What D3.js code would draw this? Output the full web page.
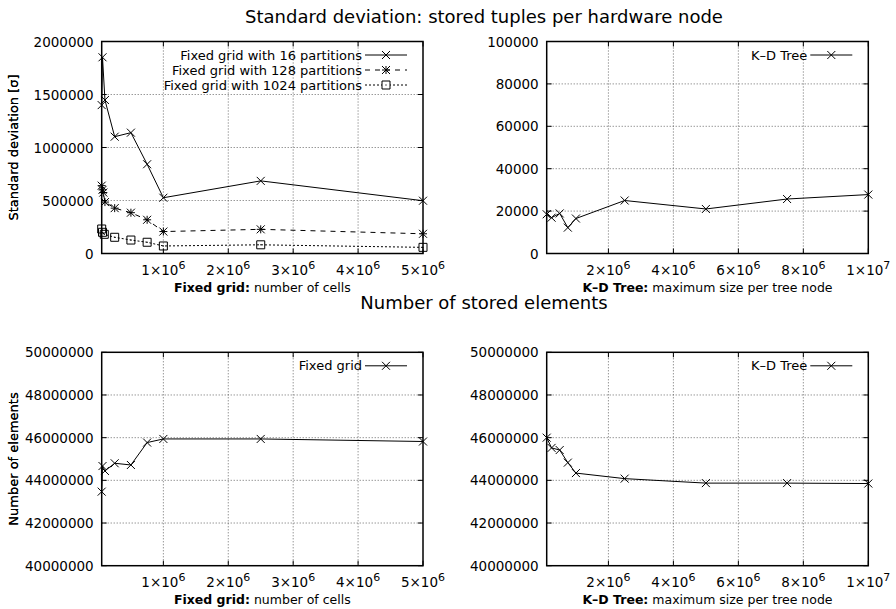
<!DOCTYPE html>
<html>
<head>
<meta charset="utf-8">
<script src="https://cdn.jsdelivr.net/npm/d3@7"></script>
<style>
  body { margin: 0; background: #fff; }
  svg { font-family: "DejaVu Sans", sans-serif; }
</style>
</head>
<body>
<svg id="chart" width="896" height="609"></svg>
<script>
// ---- data ----
const cells16 = [50000, 62500, 100000, 250000, 500000, 750000, 1000000, 2500000, 5000000];
const std16 = [1400000, 1851000, 1448000, 1102000, 1140000, 842000, 526000, 685000, 498000];

const cells128 = [50000, 62500, 75000, 100000, 250000, 500000, 750000, 1000000, 2500000, 5000000];
const std128 = [640000, 600000, 575000, 485000, 428000, 385000, 318000, 207000, 228000, 186000];

const cells1024 = [50000, 62500, 90000, 250000, 500000, 750000, 1000000, 2500000, 5000000];
const std1024 = [231000, 200000, 181000, 153000, 127000, 106000, 71000, 82000, 58000];

const gridElems = [43470000, 44670000, 44440000, 44800000, 44720000, 45770000, 45940000, 45940000, 45820000];

const kdSize = [100000, 250000, 500000, 750000, 1000000, 2500000, 5000000, 7500000, 10000000];
const kdStd = [18500, 16900, 18900, 12200, 16500, 25000, 21000, 25700, 27800];
const kdElems = [46000000, 45520000, 45420000, 44830000, 44340000, 44080000, 43870000, 43870000, 43850000];

const gridXTicks = [1000000, 2000000, 3000000, 4000000, 5000000];
const kdXTicks = [2000000, 4000000, 6000000, 8000000, 10000000];
const stdGridYTicks = [0, 500000, 1000000, 1500000, 2000000];
const stdKdYTicks = [0, 20000, 40000, 60000, 80000, 100000];
const elemYTicks = [40000000, 42000000, 44000000, 46000000, 48000000, 50000000];

const titles = ["Standard deviation: stored tuples per hardware node", "Number of stored elements"];

const svg = d3.select("#chart");

function markerPath(type, s) {
    const p = d3.path();
    if (type === "cross" || type === "star") {
        p.moveTo(-s, -s); p.lineTo(s, s);
        p.moveTo(-s, s); p.lineTo(s, -s);
    }
    if (type === "star") {
        p.moveTo(-s, 0); p.lineTo(s, 0);
        p.moveTo(0, -s); p.lineTo(0, s);
    }
    if (type === "box") {
        p.rect(-s, -s, 2 * s, 2 * s);
        p.moveTo(-0.6, 0); p.lineTo(0.6, 0);
    }
    return p.toString();
}

function sciLabel(sel, v) {
    const e = Math.floor(Math.log10(v) + 1e-9);
    const m = Math.round(v / Math.pow(10, e));
    sel.append("tspan").text(m + "\u00d710");
    sel.append("tspan").attr("font-size", 11).attr("dy", -6).text(e);
}

function drawPanel(o) {
    const g = svg.append("g");
    const x = d3.scaleLinear().domain(o.xDomain).range([o.left, o.right]);
    const y = d3.scaleLinear().domain(o.yDomain).range([o.bottom, o.top]);

    // grid
    g.append("g").selectAll("line")
        .data(o.xTicks.filter(t => Math.abs(x(t) - o.right) > 1))
        .join("line")
        .attr("x1", d => x(d)).attr("x2", d => x(d))
        .attr("y1", o.top).attr("y2", o.bottom)
        .attr("stroke", "#444").attr("stroke-width", 0.8)
        .attr("stroke-dasharray", "1,2");
    g.append("g").selectAll("line")
        .data(o.yTicks.filter(t => Math.abs(y(t) - o.top) > 1 && Math.abs(y(t) - o.bottom) > 1))
        .join("line")
        .attr("x1", o.left).attr("x2", o.right)
        .attr("y1", d => y(d)).attr("y2", d => y(d))
        .attr("stroke", "#444").attr("stroke-width", 0.8)
        .attr("stroke-dasharray", "1,2");

    // ticks (mirrored, inward)
    const tl = 5;
    const tk = g.append("g").attr("stroke", "#000").attr("stroke-width", 1);
    o.xTicks.forEach(t => {
        tk.append("line").attr("x1", x(t)).attr("x2", x(t)).attr("y1", o.bottom).attr("y2", o.bottom - tl);
        tk.append("line").attr("x1", x(t)).attr("x2", x(t)).attr("y1", o.top).attr("y2", o.top + tl);
    });
    o.yTicks.forEach(t => {
        tk.append("line").attr("x1", o.left).attr("x2", o.left + tl).attr("y1", y(t)).attr("y2", y(t));
        tk.append("line").attr("x1", o.right).attr("x2", o.right - tl).attr("y1", y(t)).attr("y2", y(t));
    });

    // tick labels
    g.append("g").selectAll("text")
        .data(o.yTicks)
        .join("text")
        .attr("x", o.left - 8).attr("y", d => y(d) + 5)
        .attr("text-anchor", "end").attr("font-size", 13.5)
        .text(d => d);
    g.append("g").selectAll("text")
        .data(o.xTicks)
        .join("text")
        .attr("x", d => x(d)).attr("y", o.bottom + 21)
        .attr("text-anchor", "middle").attr("font-size", 13.5)
        .each(function(d) { sciLabel(d3.select(this), d); });

    // axis labels
    const xl = g.append("text")
        .attr("x", (o.left + o.right) / 2).attr("y", o.bottom + 38)
        .attr("text-anchor", "middle").attr("font-size", 12.5);
    xl.append("tspan").attr("font-weight", "bold").text(o.xBold);
    xl.append("tspan").text(o.xRest);
    g.append("text")
        .attr("transform", `translate(18,${(o.top + o.bottom) / 2}) rotate(-90)`)
        .attr("text-anchor", "middle").attr("font-size", 13)
        .text(o.yLabel);

    // series
    const line = d3.line().x(d => x(d[0])).y(d => y(d[1]));
    o.series.forEach(s => {
        const pts = s.x.map((v, i) => [v, s.y[i]]);
        g.append("path")
            .attr("d", line(pts))
            .attr("fill", "none").attr("stroke", "#000").attr("stroke-width", 1)
            .attr("stroke-dasharray", s.dash);
        g.append("g").selectAll("path")
            .data(pts)
            .join("path")
            .attr("transform", d => `translate(${x(d[0])},${y(d[1])})`)
            .attr("d", markerPath(s.marker, 4))
            .attr("fill", "none").attr("stroke", "#000").attr("stroke-width", 1);
    });

    // legend
    o.series.forEach((s, i) => {
        const ly = o.top + 13.5 + i * 15;
        g.append("text")
            .attr("x", o.right - 61).attr("y", ly + 4.5)
            .attr("text-anchor", "end").attr("font-size", 13)
            .text(s.name);
        g.append("line")
            .attr("x1", o.right - 58).attr("x2", o.right - 16)
            .attr("y1", ly).attr("y2", ly)
            .attr("stroke", "#000").attr("stroke-width", 1)
            .attr("stroke-dasharray", s.dash);
        g.append("path")
            .attr("transform", `translate(${o.right - 37},${ly})`)
            .attr("d", markerPath(s.marker, 4))
            .attr("fill", "#fff").attr("stroke", "#000").attr("stroke-width", 1);
    });

    // frame
    g.append("rect")
        .attr("x", o.left).attr("y", o.top)
        .attr("width", o.right - o.left).attr("height", o.bottom - o.top)
        .attr("fill", "none").attr("stroke", "#000").attr("stroke-width", 1.5);
}

const gridX = { xDomain: [50000, 5000000], left: 101.7, right: 423, xTicks: gridXTicks, xBold: "Fixed grid:", xRest: " number of cells" };
const kdX = { xDomain: [100000, 10000000], left: 546.7, right: 868.3, xTicks: kdXTicks, xBold: "K\u2013D Tree:", xRest: " maximum size per tree node" };

drawPanel(Object.assign({}, gridX, {
    top: 41.5, bottom: 253.5, yDomain: [0, 2000000], yTicks: stdGridYTicks,
    yLabel: "Standard deviation [\u03c3]",
    series: [
        { name: "Fixed grid with 16 partitions", x: cells16, y: std16, marker: "cross", dash: null },
        { name: "Fixed grid with 128 partitions", x: cells128, y: std128, marker: "star", dash: "5,5" },
        { name: "Fixed grid with 1024 partitions", x: cells1024, y: std1024, marker: "box", dash: "2,2" }
    ]
}));
drawPanel(Object.assign({}, kdX, {
    top: 41.5, bottom: 253.5, yDomain: [0, 100000], yTicks: stdKdYTicks,
    yLabel: "Standard deviation [\u03c3]",
    series: [{ name: "K\u2013D Tree", x: kdSize, y: kdStd, marker: "cross", dash: null }]
}));
drawPanel(Object.assign({}, gridX, {
    top: 352.3, bottom: 565.7, yDomain: [40000000, 50000000], yTicks: elemYTicks,
    yLabel: "Number of elements",
    series: [{ name: "Fixed grid", x: cells16, y: gridElems, marker: "cross", dash: null }]
}));
drawPanel(Object.assign({}, kdX, {
    top: 352.3, bottom: 565.7, yDomain: [40000000, 50000000], yTicks: elemYTicks,
    yLabel: "Number of elements",
    series: [{ name: "K\u2013D Tree", x: kdSize, y: kdElems, marker: "cross", dash: null }]
}));

svg.selectAll(".title")
    .data(titles)
    .join("text")
    .attr("class", "title")
    .attr("x", 484).attr("y", (d, i) => i === 0 ? 23 : 309)
    .attr("text-anchor", "middle").attr("font-size", 18)
    .text(d => d);
</script>
</body>
</html>
